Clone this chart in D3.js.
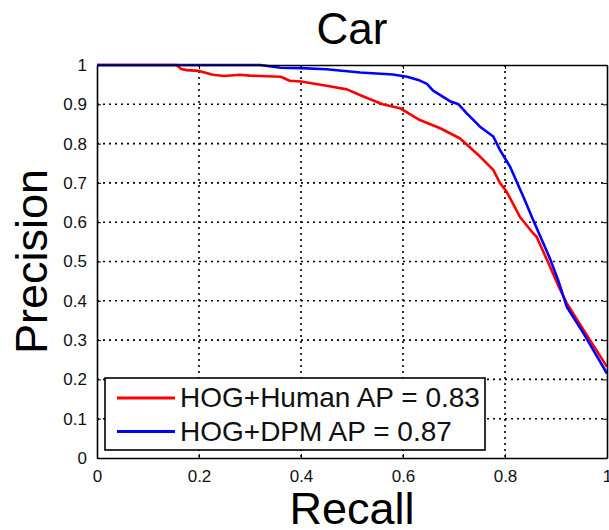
<!DOCTYPE html>
<html>
<head>
<meta charset="utf-8">
<script src="https://cdn.jsdelivr.net/npm/d3@7"></script>
<style>
  body { margin: 0; background: #fff; }
  svg { display: block; font-family: "Liberation Sans", Arial, sans-serif; }
  .tick text { fill: #111; }
</style>
</head>
<body>
<svg id="chart"></svg>
<script>
const title = 'Car';
const xTicks = [0, 0.2, 0.4, 0.6, 0.8, 1];
const yTicks = [0, 0.1, 0.2, 0.3, 0.4, 0.5, 0.6, 0.7, 0.8, 0.9, 1];

// HOG+Human (red)
const humanRecall = [0, 0.156, 0.165, 0.176, 0.2, 0.227, 0.25, 0.28, 0.3, 0.36, 0.378, 0.4, 0.45, 0.49, 0.52, 0.56, 0.594, 0.633, 0.673, 0.712, 0.751, 0.777, 0.79, 0.803, 0.829, 0.855, 0.862, 0.882, 0.904, 0.921, 0.954, 1.0];
const humanPrecision = [1, 1, 0.99, 0.987, 0.985, 0.975, 0.972, 0.975, 0.973, 0.97, 0.96, 0.958, 0.947, 0.938, 0.921, 0.9, 0.89, 0.86, 0.839, 0.813, 0.767, 0.733, 0.7, 0.678, 0.614, 0.572, 0.563, 0.505, 0.44, 0.394, 0.326, 0.232];

// HOG+DPM (blue)
const dpmRecall = [0, 0.32, 0.36, 0.4, 0.45, 0.516, 0.58, 0.608, 0.63, 0.647, 0.659, 0.692, 0.709, 0.725, 0.751, 0.777, 0.79, 0.81, 0.836, 0.855, 0.888, 0.904, 0.921, 0.954, 1.0];
const dpmPrecision = [1, 1, 0.993, 0.992, 0.989, 0.981, 0.976, 0.97, 0.962, 0.952, 0.935, 0.908, 0.9, 0.877, 0.843, 0.818, 0.784, 0.741, 0.665, 0.606, 0.508, 0.453, 0.385, 0.317, 0.215];

const seriesNames = ['HOG+Human AP = 0.83', 'HOG+DPM AP = 0.87'];
const seriesColors = ['#ff0000', '#0000ff'];

const W = 609, H = 530;
const margin = {left: 97, top: 65, right: 2, bottom: 72};
const width = W - margin.left - margin.right;
const height = H - margin.top - margin.bottom;

const svg = d3.select('#chart').attr('width', W).attr('height', H);
const chart = svg.append('g').attr('transform', `translate(${margin.left}, ${margin.top})`);

const xScale = d3.scaleLinear().domain([0, 1]).range([0, width]);
const yScale = d3.scaleLinear().domain([0, 1]).range([height, 0]);

// dotted grid
chart.append('g')
  .selectAll('line')
  .data(xTicks.slice(1, -1))
  .join('line')
  .attr('x1', d => xScale(d)).attr('x2', d => xScale(d))
  .attr('y1', 0).attr('y2', height)
  .attr('stroke', '#000').attr('stroke-width', 1.6)
  .attr('stroke-dasharray', '2,4');

chart.append('g')
  .selectAll('line')
  .data(yTicks.slice(1, -1))
  .join('line')
  .attr('x1', 0).attr('x2', width)
  .attr('y1', d => yScale(d)).attr('y2', d => yScale(d))
  .attr('stroke', '#000').attr('stroke-width', 1.6)
  .attr('stroke-dasharray', '2,4');

// curves
const series = [
  {recall: humanRecall, precision: humanPrecision},
  {recall: dpmRecall, precision: dpmPrecision}
];

const line = d3.line()
  .x(d => xScale(d[0]))
  .y(d => yScale(d[1]));

series.forEach((s, i) => {
  chart.append('path')
    .datum(d3.zip(s.recall, s.precision))
    .attr('fill', 'none')
    .attr('stroke', seriesColors[i])
    .attr('stroke-width', 2.6)
    .attr('stroke-linejoin', 'round')
    .attr('d', line);
});

// axes, ticks pointing inward
const fmt = d => (d === 0 || d === 1) ? String(d) : d.toFixed(1);

chart.append('g')
  .attr('transform', `translate(0, ${height})`)
  .call(d3.axisBottom(xScale).tickValues(xTicks).tickSizeInner(-4).tickSizeOuter(0).tickPadding(12).tickFormat(fmt))
  .call(g => g.selectAll('text').attr('font-size', 17))
  .call(g => g.select('.domain').attr('stroke-width', 1.6));

chart.append('g')
  .call(d3.axisLeft(yScale).tickValues(yTicks).tickSizeInner(-4).tickSizeOuter(0).tickPadding(10).tickFormat(fmt))
  .call(g => g.selectAll('text').attr('font-size', 17))
  .call(g => g.select('.domain').attr('stroke-width', 1.6));

chart.append('g')
  .call(d3.axisTop(xScale).tickValues(xTicks).tickSizeInner(-4).tickSizeOuter(0).tickFormat(''))
  .call(g => g.select('.domain').attr('stroke-width', 1.6));

chart.append('g')
  .attr('transform', `translate(${width}, 0)`)
  .call(d3.axisRight(yScale).tickValues(yTicks).tickSizeInner(-4).tickSizeOuter(0).tickFormat(''))
  .call(g => g.select('.domain').attr('stroke-width', 1.6));

// legend
const legend = svg.append('g').attr('transform', 'translate(105, 378)');
legend.append('rect')
  .attr('width', 380).attr('height', 72)
  .attr('fill', '#fff').attr('stroke', '#000').attr('stroke-width', 1.6);

seriesNames.forEach((name, i) => {
  const y = 20 + i * 33.5;
  legend.append('line')
    .attr('x1', 12).attr('x2', 70)
    .attr('y1', y).attr('y2', y)
    .attr('stroke', seriesColors[i]).attr('stroke-width', 3);
  legend.append('text')
    .attr('x', 75).attr('y', y + 9)
    .attr('font-size', 28)
    .attr('fill', '#111')
    .text(name);
});

// labels
svg.append('text')
  .attr('x', margin.left + width / 2)
  .attr('y', 44)
  .attr('text-anchor', 'middle')
  .attr('font-size', 44)
  .text(title);

svg.append('text')
  .attr('x', margin.left + width / 2)
  .attr('y', 524)
  .attr('text-anchor', 'middle')
  .attr('font-size', 45)
  .text('Recall');

svg.append('text')
  .attr('transform', `translate(47, ${margin.top + height / 2}) rotate(-90)`)
  .attr('text-anchor', 'middle')
  .attr('font-size', 45)
  .text('Precision');
</script>
</body>
</html>
